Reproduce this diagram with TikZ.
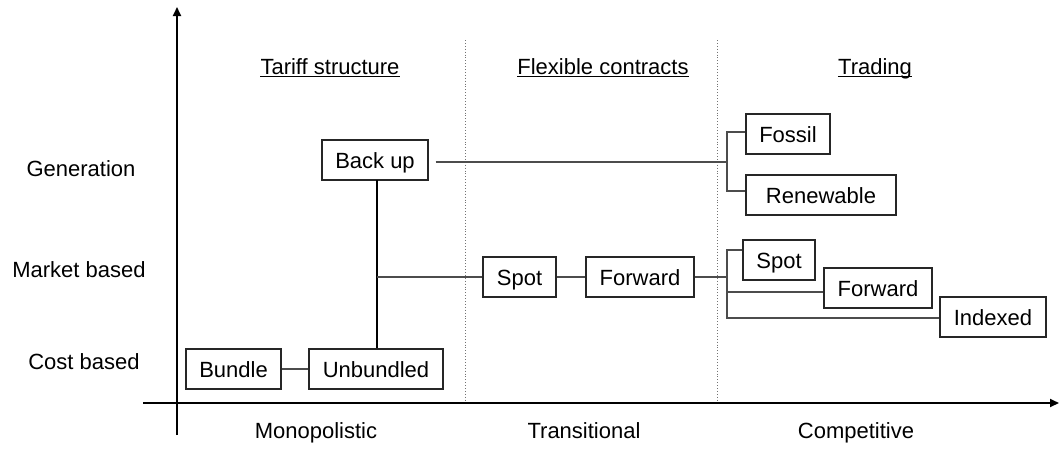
\documentclass[tikz,border=0pt]{standalone}
\usepackage{fontspec}
\setmainfont{Liberation Sans}
\usetikzlibrary{arrows.meta}
\begin{document}
\begin{tikzpicture}[x=1pt,y=-1pt,
  every node/.style={font=\fontsize{22}{24}\selectfont},
  box/.style={draw=black!85,line width=1.1pt,minimum height=40pt,inner sep=0pt,
    text height=17pt,text depth=1pt,fill=white},
  link/.style={draw=black!70,line width=1.3pt},
  lbl/.style={inner sep=0pt,anchor=base},
  axis/.style={draw=black,line width=1.8pt,-{Triangle[length=9pt,width=8pt]}},
  sep/.style={draw=black!55,line width=0.9pt,dotted}]
\useasboundingbox (0,0) rectangle (1060,448);

% axes
\coordinate (yb) at (177,435);
\coordinate (yt) at (177,7);
\coordinate (xl) at (143,403);
\coordinate (xr) at (1059,403);
\draw[axis] (yb) -- (yt);
\draw[axis] (xl) -- (xr);

% phase separators
\coordinate (s1t) at (465,40);
\coordinate (s1b) at (465,400);
\coordinate (s2t) at (717,40);
\coordinate (s2b) at (717,400);
\draw[sep] (s1t) -- (s1b);
\draw[sep] (s2t) -- (s2b);

% column headers
\node[lbl] (h1) at (330,74) {Tariff structure};
\node[lbl] (h2) at (603,74) {Flexible contracts};
\node[lbl] (h3) at (875,74) {Trading};
\foreach \h in {h1,h2,h3}
  \draw[line width=1.5pt] ([yshift=-2.5pt]\h.base west) -- ([yshift=-2.5pt]\h.base east);

% row labels
\node[lbl] (r1) at (81,176) {Generation};
\node[lbl] (r2) at (79,277) {Market based};
\node[lbl] (r3) at (84,369) {Cost based};

% axis categories
\node[lbl] (c1) at (316,438) {Monopolistic};
\node[lbl] (c2) at (584,438) {Transitional};
\node[lbl] (c3) at (856,438) {Competitive};

% boxes
\node[box,minimum width=106pt] (backup) at (375,160) {Back up};
\node[box,minimum width=95pt] (bundle) at (233.5,369) {Bundle};
\node[box,minimum width=134pt] (unbundled) at (376,369) {Unbundled};
\node[box,minimum width=73pt] (spot) at (519.5,277) {Spot};
\node[box,minimum width=108pt] (forward) at (640,277) {Forward};
\node[box,minimum width=84pt] (fossil) at (788,134) {Fossil};
\node[box,minimum width=150pt] (renew) at (821,195) {Renewable};
\node[box,minimum width=72pt] (tspot) at (779,260) {Spot};
\node[box,minimum width=108pt] (tfwd) at (878,288) {Forward};
\node[box,minimum width=106pt] (tidx) at (993,317) {Indexed};

% junctions
\coordinate (gj) at (727,162);
\coordinate (mj) at (377,277);
\coordinate (tj) at (727,277);
\coordinate (bu) at (377,180);

% connectors
\draw[link] (bundle) -- (unbundled);
\draw[draw=black,line width=1.3pt] (bu) -- (unbundled.north -| bu);
\draw[link] (mj) -- (spot.west);
\draw[link] (spot) -- (forward);
\draw[link] (forward.east) -- (tj);
\draw[link] ([xshift=7pt]backup.east |- gj) -- (gj);
\draw[link] (fossil.west |- 0,132) -| (gj) |- (renew.west |- 0,191);
\draw[link] (tspot.west |- 0,250) -| (727,318) -- (tidx.west |- 0,318);
\draw[link] (727,292) -- (tfwd.west |- 0,292);
\end{tikzpicture}
\end{document}
